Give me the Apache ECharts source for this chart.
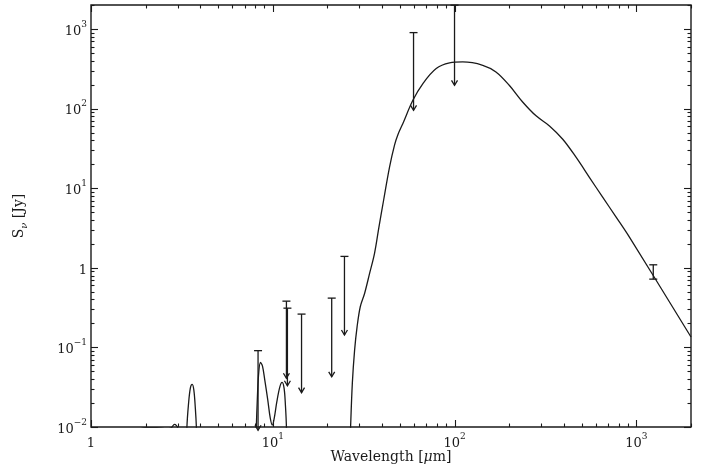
<!DOCTYPE html>
<html>
<head>
<meta charset="utf-8">
<script src="https://cdn.jsdelivr.net/npm/echarts@6/dist/echarts.min.js"></script>
<style>
  html, body { margin: 0; padding: 0; background: #fff; }
  #chart { width: 707px; height: 468px; }
</style>
</head>
<body>
<div id="chart"></div>
<script>
// Model spectral energy distribution: wavelength [um] vs flux density [Jy]
const sedWavelength = [
  1.0, 2.0, 2.3, 2.6, 2.75, 2.88, 3.0, 3.15,
  3.30, 3.37, 3.435, 3.52, 3.603, 3.68, 3.75, 3.80, 3.88,
  7.9, 8.05, 8.117, 8.22, 8.35, 8.56, 8.78, 9.04, 9.39, 9.69, 9.94, 10.19, 10.52, 10.93, 11.25, 11.54, 11.74, 11.89, 12.0,
  26.2, 26.8, 27.4, 28.2, 29.1, 30.3, 32.0, 34.1, 36.3, 38.4, 40.7, 43.9, 46.8, 48.8, 52.0, 59.0, 67.0, 79.3, 93.9,
  111, 143, 169, 200, 237, 281, 333, 394, 466, 552, 653, 773, 915, 2000
];
const sedFlux = [
  0.002, 0.0098, 0.0098, 0.0095, 0.0097, 0.0108, 0.0097, 0.002,
  0.002, 0.0099, 0.0188, 0.0308, 0.0343, 0.0291, 0.01725, 0.0099, 0.002,
  0.002, 0.005, 0.0099, 0.0218, 0.0449, 0.0648, 0.0582, 0.0388, 0.0218, 0.0129, 0.01057, 0.0129, 0.0205, 0.0317, 0.0363, 0.0308, 0.0188, 0.0099, 0.002,
  0.002, 0.0099, 0.0353, 0.0925, 0.181, 0.324, 0.476, 0.85, 1.52, 3.27, 7.0, 18.4, 35.0, 47.0, 65.0, 127, 206, 318, 374,
  385, 350, 288, 196, 121, 81, 60.6, 41.2, 24.5, 13.7, 7.7, 4.37, 2.45, 0.135
];

// Upper limits: wavelength, limit value, arrow tip
const limitWavelength = [8.3, 11.89, 12.04, 14.4, 21.1, 24.8, 59.5, 100];
const limitTop = [0.091, 0.381, 0.311, 0.262, 0.416, 1.39, 900, 1990];
const limitTip = [0.0091, 0.041, 0.033, 0.027, 0.0427, 0.143, 95, 196];

// Detection with error bar (1.2 mm)
const detWavelength = [1240];
const detLow = [0.72];
const detHigh = [1.09];

// Axis ranges and decade tick labels (base, exponent)
const xRange = [1, 2000];
const yRange = [0.01, 2000];
const xTickValues = [1, 10, 100, 1000];
const xTickLabels = [['1', ''], ['10', '1'], ['10', '2'], ['10', '3']];
const yTickValues = [0.01, 0.1, 1, 10, 100, 1000];
const yTickLabels = [['10', '\u22122'], ['10', '\u22121'], ['1', ''], ['10', '1'], ['10', '2'], ['10', '3']];

const INK = '#1a1a1a';
const FONT = 'DejaVu Serif';

function decadeLabel(values, labels) {
  return function (v) {
    for (let i = 0; i < values.length; i++) {
      if (Math.abs(Math.log10(v) - Math.log10(values[i])) < 1e-6) {
        const [b, s] = labels[i];
        return '{b|' + b + '}' + (s ? '{s|' + s + '}' : '');
      }
    }
    return '';
  };
}

// Tick marks on all four sides: decades plus 2..9 minor ticks
function logTicks(range) {
  const out = [];
  const lo = Math.floor(Math.log10(range[0]));
  const hi = Math.ceil(Math.log10(range[1]));
  for (let d = lo; d <= hi; d++) {
    for (let m = 1; m <= 9; m++) {
      const v = m * Math.pow(10, d);
      if (v >= range[0] * 0.9999 && v <= range[1] * 1.0001) out.push([v, m === 1 ? 1 : 0]);
    }
  }
  return out;
}
const xTickMarks = logTicks(xRange).map(t => [t[0], yRange[0], t[1]]);
const yTickMarks = logTicks(yRange).map(t => [xRange[0], t[0], t[1]]);

const MAJOR = 7, MINOR = 3.5;
const tickStyle = { stroke: INK, lineWidth: 1.1 };

const richTick = {
  b: { fontFamily: FONT, fontSize: 13, color: INK, lineHeight: 18, verticalAlign: 'bottom' },
  s: { fontFamily: FONT, fontSize: 9, color: INK, lineHeight: 9, verticalAlign: 'top' }
};

const chart = echarts.init(document.getElementById('chart'), null, { renderer: 'canvas' });

chart.setOption({
  animation: false,
  backgroundColor: '#fff',
  grid: {
    left: 91, right: 16, top: 5, bottom: 41,
    outerBoundsMode: 'none', containLabel: false,
    show: true, borderColor: INK, borderWidth: 1.4, backgroundColor: 'transparent'
  },
  xAxis: {
    type: 'log', logBase: 10, min: xRange[0], max: xRange[1],
    axisLine: { show: false }, axisTick: { show: false }, splitLine: { show: false },
    axisLabel: { margin: 5, formatter: decadeLabel(xTickValues, xTickLabels), rich: richTick, showMinLabel: true, showMaxLabel: true },
    name: 'Wavelength [{m|\u03bc}m]', nameLocation: 'middle', nameGap: 23, nameMoveOverlap: false,
    nameTextStyle: {
      fontFamily: FONT, fontSize: 14, color: INK,
      rich: { m: { fontFamily: FONT, fontSize: 14, color: INK, fontStyle: 'italic' } }
    }
  },
  yAxis: {
    type: 'log', logBase: 10, min: yRange[0], max: yRange[1],
    axisLine: { show: false }, axisTick: { show: false }, splitLine: { show: false },
    axisLabel: { margin: 4, formatter: decadeLabel(yTickValues, yTickLabels), rich: richTick, showMinLabel: true, showMaxLabel: true },
    name: '{n|S}{u|\u03bd}{n| [Jy]}', nameLocation: 'middle', nameGap: 62, nameRotate: 90, nameMoveOverlap: false,
    nameTextStyle: {
      rich: {
        n: { fontFamily: FONT, fontSize: 14, color: INK, lineHeight: 17, verticalAlign: 'top' },
        u: { fontFamily: FONT, fontSize: 10, color: INK, lineHeight: 10, verticalAlign: 'bottom', fontStyle: 'italic' }
      }
    }
  },
  series: [
    {
      name: 'x ticks', type: 'custom', silent: true, z: 5,
      data: xTickMarks,
      renderItem: function (params, api) {
        const p = api.coord([api.value(0), api.value(1)]);
        const cs = params.coordSys;
        const len = api.value(2) ? MAJOR : MINOR;
        const x = Math.round(p[0]) + 0.5;
        return { type: 'group', children: [
          { type: 'line', shape: { x1: x, y1: cs.y + cs.height, x2: x, y2: cs.y + cs.height - len }, style: tickStyle },
          { type: 'line', shape: { x1: x, y1: cs.y, x2: x, y2: cs.y + len }, style: tickStyle }
        ] };
      }
    },
    {
      name: 'y ticks', type: 'custom', silent: true, z: 5,
      data: yTickMarks,
      renderItem: function (params, api) {
        const p = api.coord([api.value(0), api.value(1)]);
        const cs = params.coordSys;
        const len = api.value(2) ? MAJOR : MINOR;
        const y = Math.round(p[1]) + 0.5;
        return { type: 'group', children: [
          { type: 'line', shape: { x1: cs.x, y1: y, x2: cs.x + len, y2: y }, style: tickStyle },
          { type: 'line', shape: { x1: cs.x + cs.width, y1: y, x2: cs.x + cs.width - len, y2: y }, style: tickStyle }
        ] };
      }
    },
    {
      name: 'SED model', type: 'line', clip: true, z: 3,
      data: sedWavelength.map((w, i) => [w, sedFlux[i]]),
      showSymbol: false, smooth: 0.35,
      lineStyle: { color: INK, width: 1.3 }
    },
    {
      name: 'upper limits', type: 'custom', silent: true, z: 4,
      data: limitWavelength.map((w, i) => [w, limitTop[i], limitTip[i]]),
      renderItem: function (params, api) {
        const top = api.coord([api.value(0), api.value(1)]);
        const tip = api.coord([api.value(0), api.value(2)]);
        const x = top[0];
        const st = { stroke: INK, lineWidth: 1.3, fill: null };
        return { type: 'group', children: [
          { type: 'line', shape: { x1: x, y1: top[1], x2: x, y2: tip[1] }, style: st },
          { type: 'line', shape: { x1: x - 4, y1: top[1], x2: x + 4, y2: top[1] }, style: st },
          { type: 'polyline', shape: { points: [[x - 3, tip[1] - 5], [x, tip[1]], [x + 3, tip[1] - 5]] }, style: st }
        ] };
      }
    },
    {
      name: '1.2 mm', type: 'custom', silent: true, z: 4,
      data: detWavelength.map((w, i) => [w, detLow[i], detHigh[i]]),
      renderItem: function (params, api) {
        const lo = api.coord([api.value(0), api.value(1)]);
        const hi = api.coord([api.value(0), api.value(2)]);
        const x = lo[0];
        const st = { stroke: INK, lineWidth: 1.3 };
        return { type: 'group', children: [
          { type: 'line', shape: { x1: x, y1: lo[1], x2: x, y2: hi[1] }, style: st },
          { type: 'line', shape: { x1: x - 4, y1: lo[1], x2: x + 4, y2: lo[1] }, style: st },
          { type: 'line', shape: { x1: x - 4, y1: hi[1], x2: x + 4, y2: hi[1] }, style: st }
        ] };
      }
    }
  ]
});
</script>
</body>
</html>
